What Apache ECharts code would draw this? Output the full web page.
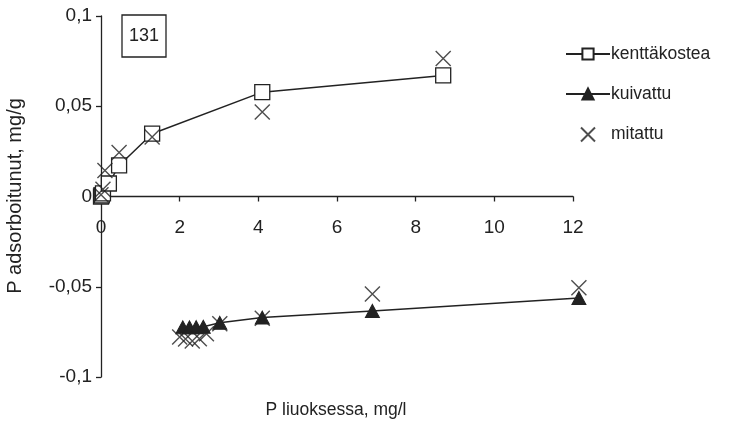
<!DOCTYPE html>
<html>
<head>
<meta charset="utf-8">
<script src="https://cdn.jsdelivr.net/npm/echarts@6/dist/echarts.min.js"></script>
<style>
  html, body { margin: 0; padding: 0; background: #fff; }
  #chart { width: 733px; height: 421px; }
</style>
</head>
<body>
<div id="chart"></div>
<script>
// Field-moist soil (kenttäkostea): P in solution (mg/l) vs adsorbed P (mg/g)
const moistX = [0, 0.02, 0.05, 0.2, 0.46, 1.3, 4.1, 8.7];
const moistY = [0, 0.0006, 0.0017, 0.0072, 0.0172, 0.0348, 0.0578, 0.0671];

// Dried soil (kuivattu)
const driedX = [2.08, 2.25, 2.42, 2.6, 3.02, 4.1, 6.9, 12.15];
const driedY = [-0.0725, -0.0725, -0.0724, -0.0722, -0.0700, -0.0671, -0.0634, -0.0562];

// Measured values (mitattu)
const measX = [0, 0.05, 0.1, 0.46, 1.3, 4.1, 8.7, 2.0, 2.15, 2.32, 2.5, 2.68, 3.02, 4.1, 6.9, 12.15];
const measY = [0.001, 0.004, 0.0144, 0.0244, 0.0329, 0.0468, 0.0764, -0.0778, -0.0790, -0.0800, -0.0788, -0.0760, -0.0705, -0.0675, -0.0540, -0.0505];

const xTicks = { min: 0, max: 12, interval: 2 };
const yTicks = { min: -0.1, max: 0.1, interval: 0.05 };

const ink = '#222';
const font = 'Liberation Sans, Arial, sans-serif';

const gridTop = 16, gridBottom = 44, chartH = 421;
// pixel distance from the grid bottom up to y = 0, so the x axis sits on zero
const zeroLift = (chartH - gridTop - gridBottom) * (0 - yTicks.min) / (yTicks.max - yTicks.min);

const pairs = (xs, ys) => xs.map((x, i) => [x, ys[i]]);

const chart = echarts.init(document.getElementById('chart'), null, { renderer: 'canvas' });

chart.setOption({
  backgroundColor: '#fff',
  animation: false,
  grid: { left: 101, right: 160, top: gridTop, bottom: gridBottom, containLabel: false },
  xAxis: {
    type: 'value',
    position: 'bottom',
    offset: -zeroLift,
    min: xTicks.min, max: xTicks.max, interval: xTicks.interval,
    splitLine: { show: false },
    axisLine: { onZero: false, lineStyle: { color: ink, width: 1.3 } },
    axisTick: { show: true, length: 5, lineStyle: { color: ink, width: 1.3 } },
    axisLabel: { color: ink, fontSize: 19, fontFamily: font, margin: 22 }
  },
  yAxis: {
    type: 'value',
    min: yTicks.min, max: yTicks.max, interval: yTicks.interval,
    splitLine: { show: false },
    axisLine: { show: true, onZero: false, lineStyle: { color: ink, width: 1.3 } },
    axisTick: { show: true, length: 5, lineStyle: { color: ink, width: 1.3 } },
    axisLabel: {
      color: ink, fontSize: 19, fontFamily: font, margin: 9,
      formatter: v => String(+v.toFixed(2)).replace('.', ',')
    }
  },
  legend: {
    orient: 'vertical',
    left: 560, top: 40,
    itemWidth: 44, itemHeight: 14, itemGap: 22,
    textStyle: { color: ink, fontSize: 17.5, fontFamily: font, padding: [0, 0, 0, -4] },
    data: ['kenttäkostea', 'kuivattu', 'mitattu']
  },
  graphic: [
    {
      type: 'rect', shape: { x: 122, y: 15, width: 44, height: 42 },
      style: { fill: '#fff', stroke: ink, lineWidth: 1.3 }
    },
    {
      type: 'text', x: 144, y: 36,
      style: { text: '131', fill: ink, font: '18px ' + font, align: 'center', verticalAlign: 'middle' }
    },
    {
      type: 'text', x: 336, y: 410,
      style: { text: 'P liuoksessa, mg/l', fill: ink, font: '17.5px ' + font, align: 'center', verticalAlign: 'middle' }
    },
    {
      type: 'text', x: 15, y: 196, rotation: Math.PI / 2,
      style: { text: 'P adsorboitunut, mg/g', fill: ink, font: '20px ' + font, align: 'center', verticalAlign: 'middle' }
    }
  ],
  series: [
    {
      name: 'kenttäkostea',
      type: 'line',
      data: pairs(moistX, moistY),
      symbol: 'rect', symbolSize: 15,
      clip: false,
      lineStyle: { color: ink, width: 1.5 },
      itemStyle: { color: '#fff', borderColor: ink, borderWidth: 1.3 },
      z: 3
    },
    {
      name: 'kuivattu',
      type: 'line',
      data: pairs(driedX, driedY),
      symbol: 'triangle', symbolSize: [14, 13],
      clip: false,
      lineStyle: { color: ink, width: 1.5 },
      itemStyle: { color: ink, borderColor: ink, borderWidth: 1 },
      z: 3
    },
    {
      name: 'mitattu',
      type: 'scatter',
      data: pairs(measX, measY),
      symbol: 'path://M0,0L10,10M10,0L0,10',
      symbolSize: 15,
      clip: false,
      itemStyle: { color: 'none', borderColor: ink, borderWidth: 1.4 },
      z: 4
    }
  ]
});
</script>
</body>
</html>
